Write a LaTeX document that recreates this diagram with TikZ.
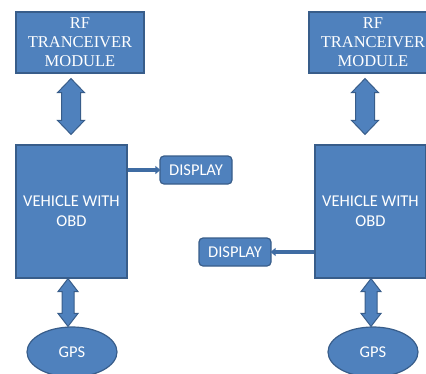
\documentclass[tikz,border=0pt]{standalone}
\usepackage{fontspec}
\setmainfont{Liberation Serif}
\setsansfont{Carlito}
\usetikzlibrary{arrows.meta,shapes.geometric,calc}

\definecolor{boxfill}{HTML}{4F81BD}
\definecolor{boxline}{HTML}{385D8A}
\definecolor{linkline}{HTML}{3F6CA3}

% vertical two-headed block arrow: #1 head width, #2 shaft width, #3 head length, #4 top tip, #5 bottom tip
\newcommand\vbiarrow[5]{%
  \draw[blockarrow] let \p1=(#4), \p2=(#5) in
    (\x1,\y1) -- ++(#1/2,-#3) -- (\x1+#2/2,\y1-#3) -- (\x1+#2/2,\y2+#3)
    -- (\x1+#1/2,\y2+#3) -- (\x1,\y2) -- (\x1-#1/2,\y2+#3)
    -- (\x1-#2/2,\y2+#3) -- (\x1-#2/2,\y1-#3) -- (\x1-#1/2,\y1-#3) -- cycle;}

\tikzset{
  box/.style={draw=boxline, fill=boxfill, line width=1.2pt, text=white,
    inner sep=0pt, align=center},
  rfbox/.style={box, rectangle, minimum width=128pt, minimum height=61pt,
    font=\fontsize{16.5}{19}\selectfont},
  vehbox/.style={box, rectangle, minimum width=111pt, minimum height=133pt,
    font=\sffamily\fontsize{16.5}{20}\selectfont},
  dispbox/.style={box, rectangle, rounded corners=4pt, minimum width=72pt,
    minimum height=28pt, font=\sffamily\fontsize{16.5}{20}\selectfont},
  gpsbox/.style={box, ellipse, minimum width=90pt, minimum height=50pt,
    font=\sffamily\fontsize{16.5}{20}\selectfont},
  blockarrow/.style={draw=boxline, fill=boxfill, line width=1pt, line join=miter},
  link/.style={draw=linkline, line width=3.5pt,
    -{Triangle[length=5pt,width=8pt]}, shorten >=-1pt}
}

\begin{document}
\begin{tikzpicture}[x=1pt,y=-1pt]
  \useasboundingbox (0,0) rectangle (426,373);
  \clip (0,0) rectangle (426,373);

  % left system
  \node[rfbox]   (rf1)   at (80,42.5)    {RF\\TRANCEIVER\\MODULE};
  \node[vehbox]  (veh1)  at (71.5,211.5) {VEHICLE WITH\\OBD};
  \node[dispbox] (disp1) at (196,170)    {DISPLAY};
  \node[gpsbox]  (gps1)  at (72,352)     {GPS};

  % right system
  \node[rfbox]   (rf2)   at (373,42.5)   {RF\\TRANCEIVER\\MODULE};
  \node[vehbox]  (veh2)  at (370.5,211.5){VEHICLE WITH\\OBD};
  \node[dispbox] (disp2) at (235,252)    {DISPLAY};
  \node[gpsbox]  (gps2)  at (373,352)    {GPS};

  % radio links between transceiver and vehicle
  \coordinate (t1) at ($(71,0)+(0,0|-rf1.south)+(0,5)$);
  \coordinate (b1) at ($(71,0)+(0,0|-veh1.north)+(0,-10)$);
  \vbiarrow{27pt}{19pt}{14pt}{t1}{b1}
  \coordinate (t2) at ($(365,0)+(0,0|-rf2.south)+(0,5)$);
  \coordinate (b2) at ($(365,0)+(0,0|-veh2.north)+(0,-10)$);
  \vbiarrow{27pt}{19pt}{14pt}{t2}{b2}

  % GPS links
  \coordinate (u1) at ($(68,0)+(0,0|-veh1.south)$);
  \coordinate (v1) at ($(68,0)+(0,0|-gps1.north)$);
  \vbiarrow{20pt}{12pt}{13pt}{u1}{v1}
  \coordinate (u2) at ($(371,0)+(0,0|-veh2.south)$);
  \coordinate (v2) at ($(371,0)+(0,0|-gps2.north)$);
  \vbiarrow{20pt}{12pt}{13pt}{u2}{v2}

  % display outputs
  \draw[link] (veh1.east |- disp1.west) -- (disp1.west);
  \draw[link] (veh2.west |- disp2.east) -- (disp2.east);
\end{tikzpicture}
\end{document}
